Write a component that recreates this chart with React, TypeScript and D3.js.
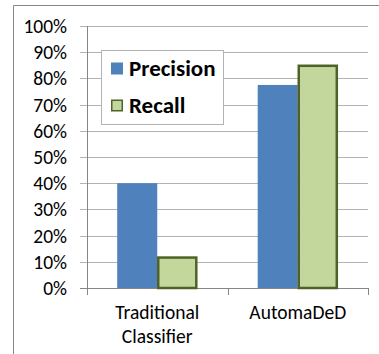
import React from "react";
import * as d3 from "d3";

const categories = [["Traditional", "Classifier"], ["AutomaDeD"]];
const seriesNames = ["Precision", "Recall"];
const precision = [0.4, 0.775];
const recall = [0.12, 0.852];
const yTicks = [0, 0.1, 0.2, 0.3, 0.4, 0.5, 0.6, 0.7, 0.8, 0.9, 1.0];

export default function App() {
  const width = 379;
  const height = 354;
  const plot = { left: 87, right: 368, top: 26, bottom: 288 };

  const font = "Carlito, Calibri, 'Open Sans', sans-serif";

  // スケール
  const yScale = d3.scaleLinear().domain([0, 1]).range([plot.bottom, plot.top]);
  const xScale = d3
    .scaleBand<number>()
    .domain(categories.map((_, i) => i))
    .range([plot.left, plot.right])
    .paddingInner(0.43)
    .paddingOuter(0.215);
  const inner = d3
    .scaleBand<number>()
    .domain([0, 1])
    .range([0, xScale.bandwidth()]);

  const colors = ["#4f81bd", "#c3d69b"];
  const strokes = ["none", "#4f6228"];
  const values = [precision, recall];

  const step = xScale.step();
  const catTicks = [plot.left, plot.left + step, plot.right];

  return (
    <div style={{ position: "fixed", left: 0, top: 0 }}>
      <svg width={width} height={height} style={{ display: "block", background: "#fff" }}>
        {/* 外枠 */}
        <line x1={13.5} y1={5.5} x2={width} y2={5.5} stroke="#868686" />
        <line x1={13.5} y1={5.5} x2={13.5} y2={height} stroke="#868686" />

        {/* グリッド線と y軸目盛り */}
        {yTicks.map((t) => (
          <g key={t} transform={`translate(0,${Math.round(yScale(t)) + 0.5})`}>
            <line x1={80} x2={plot.right} stroke={t === 0 ? "#868686" : "#b3b3b3"} />
            <text
              x={67}
              dy="0.35em"
              textAnchor="end"
              fontFamily={font}
              fontSize={19.5}
              fill="#000"
            >
              {d3.format(".0%")(t)}
            </text>
          </g>
        ))}
        <line x1={plot.left + 0.5} x2={plot.left + 0.5} y1={plot.top} y2={plot.bottom + 6} stroke="#868686" />
        {catTicks.map((x, i) => (
          <line key={i} x1={Math.round(x) + 0.5} x2={Math.round(x) + 0.5} y1={plot.bottom} y2={plot.bottom + 7} stroke="#868686" />
        ))}

        {/* バー */}
        {categories.map((_, ci) =>
          values.map((vals, si) => {
            const x = (xScale(ci) ?? 0) + (inner(si) ?? 0);
            const y = yScale(vals[ci]);
            return (
              <rect
                key={`${ci}-${si}`}
                x={si === 1 ? x + 1 : x}
                y={si === 1 ? y + 1 : y}
                width={si === 1 ? inner.bandwidth() - 2 : inner.bandwidth()}
                height={si === 1 ? plot.bottom - y - 1 : plot.bottom - y}
                fill={colors[si]}
                stroke={strokes[si]}
                strokeWidth={si === 1 ? 2.5 : 0}
              />
            );
          })
        )}

        {/* カテゴリラベル */}
        {categories.map((lines, ci) => (
          <text
            key={ci}
            x={(xScale(ci) ?? 0) + xScale.bandwidth() / 2}
            y={319}
            textAnchor="middle"
            fontFamily={font}
            fontSize={19.5}
            fill="#000"
          >
            {lines.map((l, li) => (
              <tspan key={li} x={(xScale(ci) ?? 0) + xScale.bandwidth() / 2} dy={li === 0 ? 0 : 24}>
                {l}
              </tspan>
            ))}
          </text>
        ))}

        {/* 凡例 */}
        <rect x={101.5} y={50.5} width={122} height={74} fill="#fff" stroke="#b3b3b3" />
        {seriesNames.map((name, i) => (
          <g key={name} transform={`translate(111, ${68.5 + i * 37})`}>
            <rect
              x={i === 1 ? 0.75 : 0}
              y={-6 + (i === 1 ? 0.75 : 0)}
              width={i === 1 ? 10.5 : 12}
              height={i === 1 ? 10.5 : 12}
              fill={colors[i]}
              stroke={strokes[i]}
              strokeWidth={i === 1 ? 1.5 : 0}
            />
            <text x={18} y={7.5} fontFamily={font} fontWeight="bold" fontSize={23} fill="#000">
              {name}
            </text>
          </g>
        ))}
      </svg>
    </div>
  );
}
